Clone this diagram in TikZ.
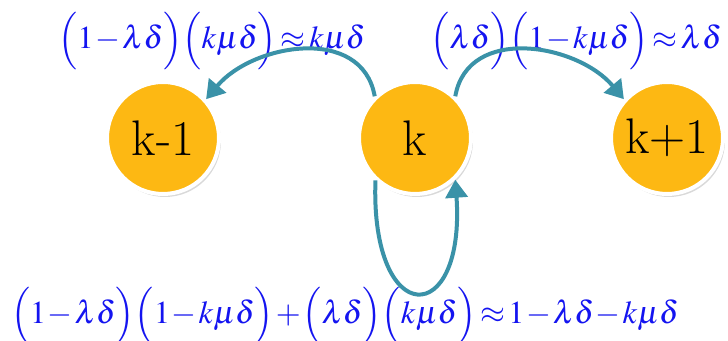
\documentclass[tikz,border=0pt]{standalone}
\usepackage{mathptmx}
\usepackage{tikz}
\usetikzlibrary{arrows.meta,positioning,shadows}
\definecolor{MCOrange}{HTML}{FDB813}
\definecolor{MCTeal}{HTML}{3A92A8}
\definecolor{MCBlue}{HTML}{1414F0}
% tight math spacing, as in the original equations
\newcommand{\tightmath}{\medmuskip=1mu\thickmuskip=2mu\thinmuskip=1mu}

\begin{document}
\begin{tikzpicture}[
    x=0.5pt,y=0.5pt,
    node distance=68pt,
    state/.style={circle,fill=MCOrange,draw=white,line width=2pt,
      minimum size=56pt,inner sep=0pt,font=\fontsize{25}{30}\selectfont,
      drop shadow={shadow xshift=1pt,shadow yshift=-1.5pt,opacity=0.3}},
    prob/.style={text=MCBlue,font=\fontsize{16}{19}\selectfont\tightmath,inner sep=0pt},
    arrow/.style={-{Triangle[length=9pt,width=11pt]},line width=2pt,draw=MCTeal}
  ]
    \useasboundingbox (0,0) rectangle (728,341);
    \node[state] (km1) at (163,203) {k-1};
    \node[state,right=of km1] (k) {k};
    \node[state,right=of k] (kp1) {k+1};
    \node[prob] (pLeft) at (212,300) {$\Bigl(1-\lambda\delta\Bigr)\Bigl(k\mu\delta\Bigr)\approx k\mu\delta$};
    \node[prob] (pRight) at (576,300) {$\Bigl(\lambda\delta\Bigr)\Bigl(1-k\mu\delta\Bigr)\approx\lambda\delta$};
    \node[prob] (pStay) at (345,25) {$\Bigl(1-\lambda\delta\Bigr)\Bigl(1-k\mu\delta\Bigr)+\Bigl(\lambda\delta\Bigr)\Bigl(k\mu\delta\Bigr)\approx1-\lambda\delta-k\mu\delta$};
    \draw[arrow] (k.134) to[out=100,in=50,looseness=1.1] (km1.42);
    \draw[arrow] (k.46) to[out=80,in=130,looseness=1.1] (kp1.138);
    \draw[arrow] (k.227) to[out=268,in=274,looseness=4.8] (k.314);
  \end{tikzpicture}
\end{document}
